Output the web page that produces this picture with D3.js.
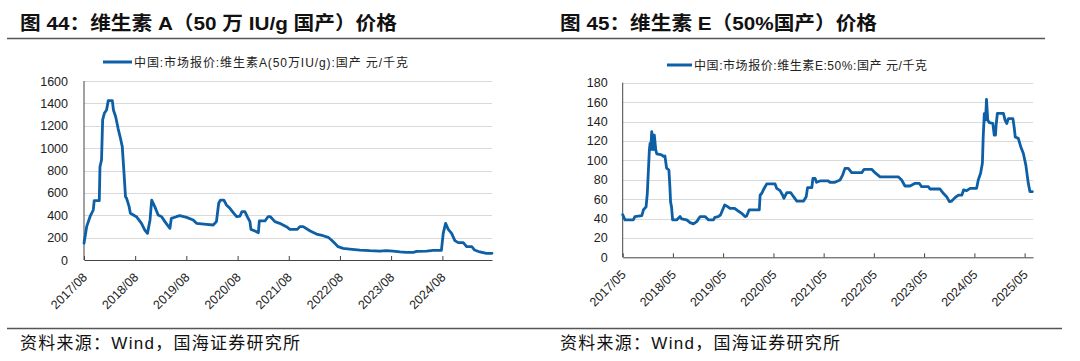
<!DOCTYPE html>
<html><head><meta charset="utf-8">
<script src="https://cdn.jsdelivr.net/npm/d3@7/dist/d3.min.js"></script>
<style>
html,body{margin:0;padding:0;background:#fff;}
svg{display:block;}
text{font-family:"Liberation Sans","Noto Sans CJK SC",Arial,sans-serif;}
</style></head>
<body>
<svg id="c" width="1080" height="361"></svg>
<script>
// ---------- data ----------
const titleA = "图 44：维生素 A（50 万 IU/g 国产）价格";
const titleE = "图 45：维生素 E（50%国产）价格";
const legendA = "中国:市场报价:维生素A(50万IU/g):国产 元/千克";
const legendE = "中国:市场报价:维生素E:50%:国产 元/千克";
const sourceText = "资料来源：Wind，国海证券研究所";

const yTicksA = [0,200,400,600,800,1000,1200,1400,1600];
const yTicksE = [0,20,40,60,80,100,120,140,160,180];
const xTicksA = ["2017-08","2018-08","2019-08","2020-08","2021-08","2022-08","2023-08","2024-08"];
const xTicksE = ["2017-05","2018-05","2019-05","2020-05","2021-05","2022-05","2023-05","2024-05","2025-05"];

const datesA = ["2017-08-01","2017-08-20","2017-09-13","2017-10-06","2017-10-13","2017-11-18","2017-11-23","2017-12-04","2017-12-12","2017-12-24",
"2018-01-09","2018-01-21","2018-02-19","2018-02-27","2018-03-15","2018-04-01","2018-04-18","2018-05-01","2018-05-12","2018-05-24",
"2018-06-01","2018-06-19","2018-06-28","2018-08-10","2018-09-15","2018-10-09","2018-10-28","2018-11-15","2018-11-27","2018-12-19",
"2019-01-12","2019-02-06","2019-03-01","2019-04-06","2019-04-16","2019-05-22","2019-06-15","2019-08-03","2019-09-19","2019-10-13",
"2019-12-23","2020-02-09","2020-03-03","2020-03-19","2020-04-01","2020-04-25","2020-05-13","2020-06-07","2020-07-01","2020-07-25",
"2020-08-18","2020-09-01","2020-09-22","2020-10-09","2020-10-28","2020-11-04","2020-12-03","2020-12-27","2021-01-03","2021-02-12",
"2021-03-06","2021-03-23","2021-04-24","2021-05-28","2021-07-15","2021-08-09","2021-10-01","2021-10-19","2021-11-12","2022-01-01",
"2022-02-15","2022-04-03","2022-05-09","2022-06-01","2022-06-25","2022-07-19","2022-08-24","2022-10-10","2022-12-21","2023-03-01",
"2023-05-12","2023-06-28","2023-08-15","2023-10-03","2023-11-19","2024-01-06","2024-02-01","2024-04-10","2024-05-27","2024-07-25",
"2024-08-07","2024-08-24","2024-09-12","2024-10-06","2024-10-29","2024-11-22","2024-12-28","2025-01-21","2025-02-27","2025-03-19",
"2025-04-25","2025-06-12","2025-07-21"];
const valuesA = [150,298,387,447,530,530,834,894,1252,1311,
1341,1424,1424,1341,1281,1177,1088,1013,805,566,
551,477,417,387,328,268,238,358,536,477,
402,387,343,283,372,387,396,381,358,328,
319,313,343,507,536,536,492,462,423,387,
393,432,432,387,343,274,259,244,349,349,
387,387,343,328,298,274,274,298,298,259,
232,217,203,179,149,119,104,98,89,83,
80,83,80,72,69,69,77,80,86,86,
238,328,274,238,173,155,155,119,119,89,
72,60,60];

const datesE = ["2017-05-01","2017-05-18","2017-07-17","2017-07-29","2017-09-17","2017-09-29","2017-10-18","2017-10-27","2017-11-04","2017-11-11",
"2017-11-16","2017-11-21","2017-11-28","2017-12-05","2017-12-10","2017-12-17","2017-12-27","2018-01-04","2018-02-09","2018-02-21",
"2018-03-04","2018-03-16","2018-04-02","2018-04-09","2018-04-14","2018-04-21","2018-04-29","2018-05-28","2018-06-22","2018-07-04",
"2018-08-09","2018-09-03","2018-09-27","2018-10-21","2018-11-15","2018-12-21","2019-01-15","2019-02-20","2019-03-02","2019-03-26",
"2019-04-12","2019-04-27","2019-05-13","2019-06-06","2019-06-18","2019-07-24","2019-08-19","2019-09-13","2019-10-07","2019-10-19",
"2019-11-06","2020-01-19","2020-01-25","2020-02-06","2020-02-23","2020-03-13","2020-05-13","2020-05-25","2020-06-18","2020-07-07",
"2020-07-16","2020-08-06","2020-09-04","2020-09-24","2020-10-18","2020-12-06","2020-12-25","2021-01-04","2021-02-04","2021-02-12",
"2021-02-28","2021-03-10","2021-04-04","2021-06-03","2021-06-16","2021-07-22","2021-08-28","2021-09-16","2021-10-03","2021-10-27",
"2021-11-21","2022-02-02","2022-02-19","2022-04-15","2022-05-09","2022-06-15","2022-10-25","2022-11-19","2022-12-13","2023-01-19",
"2023-02-25","2023-03-27","2023-04-13","2023-06-01","2023-06-13","2023-08-25","2023-09-18","2023-10-12","2023-11-01","2023-11-18",
"2023-12-12","2024-01-06","2024-01-31","2024-02-12","2024-03-06","2024-03-31","2024-05-17","2024-05-29","2024-06-15","2024-06-28",
"2024-07-04","2024-07-12","2024-07-21","2024-07-28","2024-08-06","2024-08-18","2024-09-12","2024-09-22","2024-10-01","2024-10-06",
"2024-10-15","2024-11-28","2024-12-10","2024-12-22","2025-01-03","2025-02-05","2025-02-15","2025-02-22","2025-03-16","2025-04-03",
"2025-04-22","2025-05-10","2025-05-28","2025-06-09","2025-06-26"];
const valuesE = [44,38.5,38.5,42,43,49,52,66,90,111,
117.5,111,129.5,124,111,126,111,106.5,105.5,104,
104.4,92,90,73,57,52,38.5,38.5,42,39.5,
38.5,35.7,34.4,36.8,42,42,38.5,38.5,41.2,42,
43.6,48.8,54,52,50.5,50.5,47.7,45.3,42,42.6,
48.8,48.8,64,66,71,75.6,75.6,71,68.7,64,
60.8,66.6,66.6,62.5,58,58,62.5,71.8,71.8,81.4,
81.4,77.3,78.7,78.7,77.3,77.3,79.7,84.8,91.7,91.7,
87.2,87.2,90.7,90.7,87.2,83,83,79.7,73.5,73.5,
76.3,76.3,72.8,72.8,70.4,70.4,66,62.5,57.4,58,
61.5,64.2,64.2,69.4,68.7,71.1,71.1,79.7,86.6,96.9,
124,148,141.5,162.8,141.5,138.8,138,126,126,136.4,
148.4,148.4,141.5,138,143,143,133,124,122.6,114,
107,95,76,67.7,67.7];

// ---------- drawing ----------
const svg = d3.select("#c");
const parse = d3.timeParse("%Y-%m-%d");
const parseM = d3.timeParse("%Y-%m");
const fmtM = d3.timeFormat("%Y/%m");
const BLUE = "#0d5fa6";

// header rule & footer rule
svg.append("line").attr("x1",7).attr("x2",1045).attr("y1",38.5).attr("y2",38.5)
  .attr("stroke","#555").attr("stroke-width",1.5);
svg.append("line").attr("x1",7).attr("x2",1062).attr("y1",328.5).attr("y2",328.5)
  .attr("stroke","#555").attr("stroke-width",1.5);

function panel(cfg){
  const g = svg.append("g");
  g.append("text").attr("x",cfg.titleX).attr("y",30).attr("font-size",19).attr("font-weight","bold")
    .attr("fill","#111").attr("textLength",cfg.titleW).attr("lengthAdjust","spacingAndGlyphs").text(cfg.title);
  // legend
  g.append("line").attr("x1",cfg.legX).attr("x2",cfg.legX+cfg.legLine).attr("y1",cfg.legY).attr("y2",cfg.legY)
    .attr("stroke",BLUE).attr("stroke-width",3);
  g.append("text").attr("x",cfg.legX+cfg.legLine+2).attr("y",cfg.legY+4.5).attr("font-size",12)
    .attr("fill","#222").attr("textLength",cfg.legW).attr("lengthAdjust","spacing").text(cfg.legend);
  // footer
  g.append("text").attr("x",cfg.titleX).attr("y",349).attr("font-size",17).attr("fill","#111")
    .attr("textLength",280).attr("lengthAdjust","spacing").text(sourceText);

  const x = d3.scaleTime().domain([parse(cfg.dom[0]),parse(cfg.dom[1])]).range([cfg.x0,cfg.x1]);
  const y = d3.scaleLinear().domain([0,cfg.yMax]).range([cfg.y0,cfg.yTop]);

  // grid
  g.append("g").selectAll("line").data(cfg.yTicks.filter(v=>v>0)).join("line")
    .attr("x1",cfg.x0).attr("x2",cfg.x1).attr("y1",d=>Math.round(y(d))+0.5).attr("y2",d=>Math.round(y(d))+0.5)
    .attr("stroke","#d9d9d9").attr("stroke-width",1.2);
  // y labels
  g.append("g").selectAll("text").data(cfg.yTicks).join("text")
    .attr("x",cfg.x0-cfg.yLabGap).attr("y",d=>y(d)).attr("dy","0.36em").attr("text-anchor","end")
    .attr("font-size",12.5).attr("fill","#222").text(d=>d);
  // y axis line
  g.append("line").attr("x1",cfg.x0).attr("x2",cfg.x0).attr("y1",cfg.yTop).attr("y2",cfg.y0)
    .attr("stroke","#444").attr("stroke-width",1);
  // x axis
  const tickDates = cfg.xTicks.map(parseM);
  const ax = g.append("g").attr("transform",`translate(0,${cfg.y0})`)
    .call(d3.axisBottom(x).tickValues(tickDates).tickSizeInner(-4).tickSizeOuter(0).tickFormat(""));
  ax.select(".domain").attr("stroke","#444");
  ax.selectAll(".tick line").attr("stroke","#444");
  g.append("g").selectAll("text").data(tickDates).join("text")
    .attr("transform",d=>`translate(${x(d)+4},${cfg.y0+18}) rotate(-45)`)
    .attr("text-anchor","end").attr("font-size",12.5).attr("fill","#222").text(d=>fmtM(d));
  // line
  const pts = cfg.dates.map((d,i)=>({d:parse(d),v:cfg.values[i]}));
  g.append("path").datum(pts)
    .attr("d",d3.line().x(p=>x(p.d)).y(p=>y(p.v)))
    .attr("fill","none").attr("stroke",BLUE).attr("stroke-width",2.8)
    .attr("stroke-linejoin","round").attr("stroke-linecap","round");
}

panel({title:titleA,titleX:20,titleW:377,legend:legendA,legX:103,legLine:29,legY:62,legW:274,
  dom:["2017-08-01","2025-07-21"],x0:84,x1:492,y0:260,yTop:81,yMax:1600,yTicks:yTicksA,yLabGap:16,
  xTicks:xTicksA,dates:datesA,values:valuesA});
panel({title:titleE,titleX:560,titleW:317,legend:legendE,legX:667,legLine:25,legY:65,legW:233,
  dom:["2017-05-01","2025-07-01"],x0:622.7,x1:1033,y0:257.3,yTop:82.7,yMax:180,yTicks:yTicksE,yLabGap:15,
  xTicks:xTicksE,dates:datesE,values:valuesE});
</script>
</body></html>
